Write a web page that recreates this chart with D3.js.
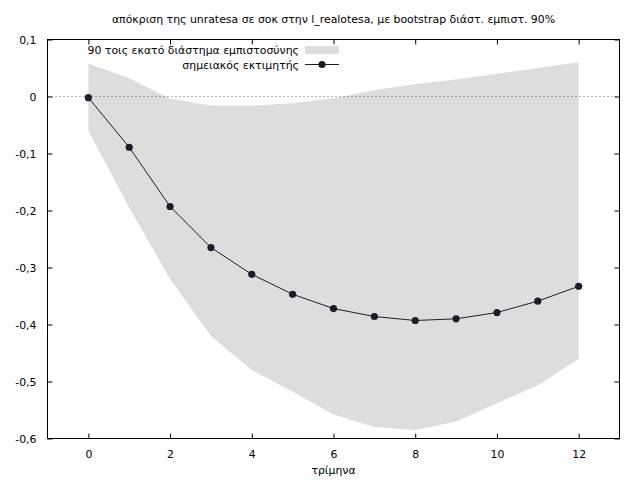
<!DOCTYPE html>
<html><head><meta charset="utf-8">
<script src="https://cdn.jsdelivr.net/npm/d3@7"></script>
<style>body{margin:0;background:#fff}svg{display:block}text{font-family:"DejaVu Sans",sans-serif;font-size:10.9px;fill:#000}</style>
</head><body><svg id="c" width="640" height="480"></svg>
<script>
const periods = [0,1,2,3,4,5,6,7,8,9,10,11,12];
const pointEstimate = [-0.002,-0.089,-0.193,-0.265,-0.312,-0.347,-0.372,-0.386,-0.393,-0.390,-0.379,-0.359,-0.333];
const upperBand = [0.058,0.032,-0.004,-0.016,-0.016,-0.012,-0.003,0.011,0.022,0.030,0.040,0.050,0.060];
const lowerBand = [-0.060,-0.195,-0.320,-0.420,-0.480,-0.518,-0.558,-0.580,-0.585,-0.570,-0.538,-0.507,-0.460];
const xTicks = [0,2,4,6,8,10,12];
const yTicks = [0.1,0,-0.1,-0.2,-0.3,-0.4,-0.5,-0.6];
const titleText = "απόκριση της unratesa σε σοκ στην l_realotesa, με bootstrap διάστ. εμπιστ. 90%";
const xLabel = "τρίμηνα";
const legendBand = "90 τοις εκατό διάστημα εμπιστοσύνης";
const legendLine = "σημειακός εκτιμητής";

const FS = 10.9;
const svg = d3.select("#c");
const L=47.5,R=619.5,T=39.5,B=438.5;
const x = d3.scaleLinear().domain([-1,13]).range([L,R]);
const y = d3.scaleLinear().domain([-0.6,0.1]).range([B,T]);
const data = periods.map((p,i)=>({p,v:pointEstimate[i],lo:lowerBand[i],hi:upperBand[i]}));

svg.append("path").datum(data)
  .attr("d", d3.area().x(d=>x(d.p)).y0(d=>y(d.lo)).y1(d=>y(d.hi)))
  .attr("fill","#dddddd");

svg.append("line").attr("x1",L).attr("x2",R).attr("y1",Math.round(y(0))+0.5).attr("y2",Math.round(y(0))+0.5)
  .attr("stroke","#444").attr("stroke-width",0.8).attr("stroke-dasharray","1,3");

const fmt = v => (Math.abs(v)<1e-9?"0":d3.format(".1f")(v)).replace(".",",").replace("−","-");
const gb = svg.append("g").attr("transform",`translate(0,${B})`)
  .call(d3.axisBottom(x).tickValues(xTicks).tickSize(-5).tickPadding(12).tickFormat(d3.format("d")));
const gt = svg.append("g").attr("transform",`translate(0,${T})`)
  .call(d3.axisTop(x).tickValues(xTicks).tickSize(-5).tickFormat(""));
const gl = svg.append("g").attr("transform",`translate(${L},0)`)
  .call(d3.axisLeft(y).tickValues(yTicks).tickSize(-5).tickPadding(11).tickFormat(fmt));
const gr = svg.append("g").attr("transform",`translate(${R},0)`)
  .call(d3.axisRight(y).tickValues(yTicks).tickSize(-5).tickFormat(""));
[gb,gt,gl,gr].forEach(g=>{g.select(".domain").remove();g.selectAll("line").attr("stroke","#000");g.selectAll("text").attr("font-family","DejaVu Sans").attr("font-size",FS).attr("fill","#000");});

svg.append("rect").attr("x",L).attr("y",T).attr("width",R-L).attr("height",B-T)
  .attr("fill","none").attr("stroke","#000").attr("stroke-width",1);

svg.append("path").datum(data).attr("d",d3.line().x(d=>x(d.p)).y(d=>y(d.v)))
  .attr("fill","none").attr("stroke","#1c1c28").attr("stroke-width",1);
svg.selectAll("circle.pt").data(data).enter().append("circle").attr("class","pt")
  .attr("cx",d=>x(d.p)).attr("cy",d=>y(d.v)).attr("r",3.6).attr("fill","#1c1c28");

svg.append("text").attr("x",299).attr("y",54).attr("text-anchor","end").text(legendBand);
svg.append("rect").attr("x",305).attr("y",46).attr("width",34).attr("height",8).attr("fill","#dddddd");
svg.append("text").attr("x",299).attr("y",69).attr("text-anchor","end").text(legendLine);
svg.append("line").attr("x1",305).attr("x2",339).attr("y1",64.5).attr("y2",64.5).attr("stroke","#1c1c28");
svg.append("circle").attr("cx",322).attr("cy",64.5).attr("r",3.6).attr("fill","#1c1c28");

svg.append("text").attr("x",(L+R)/2).attr("y",23).attr("text-anchor","middle").text(titleText);
svg.append("text").attr("x",(L+R)/2).attr("y",474).attr("text-anchor","middle").text(xLabel);
</script></body></html>
